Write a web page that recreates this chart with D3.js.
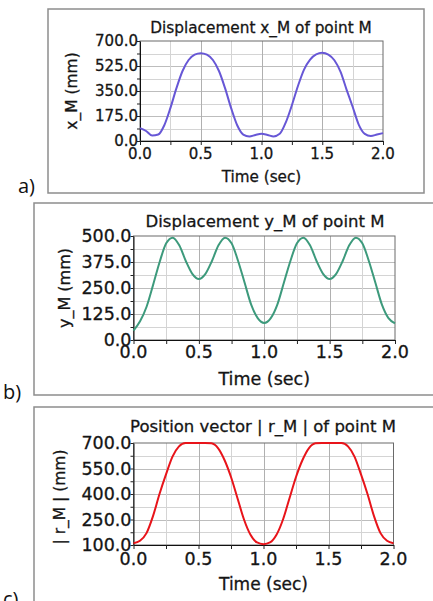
<!DOCTYPE html>
<html>
<head>
<meta charset="utf-8">
<script src="https://cdn.jsdelivr.net/npm/d3@7"></script>
<style>
  body { margin: 0; background: #fff; }
  svg { display: block; }
  .lbl { fill: #151515; stroke: #151515; stroke-width: 0.3; }
</style>
</head>
<body>
<svg id="chart" width="433" height="601"></svg>
<script>
// time samples (sec)
const time = [0, 0.05, 0.1, 0.15, 0.2, 0.25, 0.3, 0.35, 0.4, 0.45, 0.5,
  0.55, 0.6, 0.65, 0.7, 0.75, 0.8, 0.85, 0.9, 0.95, 1.0,
  1.05, 1.1, 1.15, 1.2, 1.25, 1.3, 1.35, 1.4, 1.45, 1.5,
  1.55, 1.6, 1.65, 1.7, 1.75, 1.8, 1.85, 1.9, 1.95, 2.0];

// displacement x_M (mm)
const xM = [90, 70, 38, 45, 110, 230, 370, 490, 567, 605, 615,
  605, 567, 490, 370, 230, 110, 45, 32, 42, 50,
  42, 32, 50, 130, 250, 385, 500, 570, 607, 617,
  605, 565, 485, 360, 240, 115, 50, 35, 45, 55];

// displacement y_M (mm)
const yM = [45, 90, 160, 265, 375, 465, 492, 455, 380, 318, 293,
  318, 380, 455, 492, 465, 380, 275, 170, 105, 82,
  105, 170, 275, 380, 465, 492, 455, 380, 318, 293,
  318, 380, 455, 492, 465, 380, 275, 170, 105, 80];

// |r_M| (mm)
const rM = [110, 125, 170, 270, 400, 515, 620, 680, 700, 700, 700,
  700, 698, 670, 600, 500, 375, 250, 160, 115, 105,
  115, 160, 250, 375, 500, 600, 670, 698, 700, 700,
  700, 700, 680, 620, 515, 400, 270, 170, 125, 110];

const timeTicks = [0, 0.5, 1.0, 1.5, 2.0];
const xMTicks = [0, 175, 350, 525, 700];
const yMTicks = [0, 125, 250, 375, 500];
const rMTicks = [100, 250, 400, 550, 700];

const titles = ["Displacement x_M of point M", "Displacement y_M of point M", "Position vector | r_M | of point M"];
const yTitles = ["x_M (mm)", "y_M (mm)", "| r_M | (mm)"];
const panelLabels = ["a)", "b)", "c)"];
const xTitle = "Time (sec)";

const panels = [
  { values: xM, ticks: xMTicks, color: "#6757d6",
    frame: [48, 9, 376, 184], plot: [140, 383, 41, 141],
    label: [18, 193], titleX: 261, titleY: 33, titleFs: 15.3,
    tickFs: 15, xTickY: 159, xLabY: 181.5, axisFs: 15.2,
    yLabX: 77, yLabY: 91, yLabFs: 15.5 },
  { values: yM, ticks: yMTicks, color: "#3d9a7c",
    frame: [34, 203, 420, 192], plot: [133.5, 395, 236, 340],
    label: [3, 399], titleX: 265, titleY: 226.5, titleFs: 16.5,
    tickFs: 17.5, xTickY: 358, xLabY: 385, axisFs: 17.5,
    yLabX: 70, yLabY: 288, yLabFs: 16 },
  { values: rM, ticks: rMTicks, color: "#e8141a",
    frame: [34, 407, 420, 220], plot: [133.5, 393.5, 443, 545],
    label: [3, 606], titleX: 263, titleY: 431.5, titleFs: 16.5,
    tickFs: 17.5, xTickY: 565, xLabY: 590, axisFs: 17,
    yLabX: 65, yLabY: 497, yLabFs: 15.5 }
];

const svg = d3.select("#chart");
const font = "'DejaVu Sans', sans-serif";
const fmt = d3.format(".1f");

panels.forEach((p, i) => {
  const g = svg.append("g");

  // outer frame
  g.append("rect")
    .attr("x", p.frame[0]).attr("y", p.frame[1])
    .attr("width", p.frame[2]).attr("height", p.frame[3])
    .attr("fill", "none")
    .attr("stroke", "#8d8d8d")
    .attr("stroke-width", 1.5);

  g.append("text")
    .attr("x", p.label[0]).attr("y", p.label[1])
    .attr("font-family", "'Open Sans', sans-serif")
    .attr("font-size", 20)
    .attr("fill", "#111")
    .text(panelLabels[i]);

  const x = d3.scaleLinear().domain([0, 2]).range([p.plot[0], p.plot[1]]);
  const y = d3.scaleLinear()
    .domain([p.ticks[0], p.ticks[p.ticks.length - 1]])
    .range([p.plot[3], p.plot[2]]);

  const step = (p.ticks[1] - p.ticks[0]) / 2;
  const yGridVals = d3.range(p.ticks[0], p.ticks[p.ticks.length - 1] + step / 2, step);
  const xGridVals = d3.range(0, 2.001, 0.25);

  // grid
  g.append("g")
    .selectAll("line")
    .data(yGridVals.slice(1, -1))
    .join("line")
    .attr("x1", p.plot[0]).attr("x2", p.plot[1])
    .attr("y1", (d) => Math.round(y(d)) + 0.5)
    .attr("y2", (d) => Math.round(y(d)) + 0.5)
    .attr("stroke", (d, j) => (j % 2 === 1 ? "#bdbdbd" : "#d4d4d4"));

  g.append("g")
    .selectAll("line")
    .data(xGridVals.slice(1, -1))
    .join("line")
    .attr("y1", p.plot[2]).attr("y2", p.plot[3])
    .attr("x1", (d) => Math.round(x(d)) + 0.5)
    .attr("x2", (d) => Math.round(x(d)) + 0.5)
    .attr("stroke", (d, j) => (j % 2 === 1 ? "#b0b0b0" : "#d4d4d4"));

  // plot border
  g.append("rect")
    .attr("x", p.plot[0]).attr("y", p.plot[2])
    .attr("width", p.plot[1] - p.plot[0])
    .attr("height", p.plot[3] - p.plot[2])
    .attr("fill", "none")
    .attr("stroke", "#6a6a6a");

  // axes
  g.append("g")
    .attr("transform", `translate(${p.plot[0]},0)`)
    .call(d3.axisLeft(y).tickValues(yGridVals).tickFormat("").tickSize(3).tickSizeOuter(0))
    .call((a) => a.selectAll("line").attr("stroke", "#222"))
    .call((a) => a.select(".domain").attr("stroke", "#111"));

  g.append("g")
    .selectAll("text")
    .data(p.ticks)
    .join("text")
    .attr("class", "lbl")
    .attr("x", p.plot[0] - 2)
    .attr("y", (d) => y(d))
    .attr("dy", "0.36em")
    .attr("text-anchor", "end")
    .attr("font-family", font)
    .attr("font-size", p.tickFs)
    .text((d) => fmt(d));

  g.append("g")
    .attr("transform", `translate(0,${p.plot[3]})`)
    .call(d3.axisBottom(x).tickValues(xGridVals).tickFormat("").tickSize(4).tickSizeOuter(0))
    .call((a) => a.selectAll("line").attr("stroke", "#222"))
    .call((a) => a.select(".domain").attr("stroke", "#111"));

  g.append("g")
    .selectAll("text")
    .data(timeTicks)
    .join("text")
    .attr("class", "lbl")
    .attr("x", (d) => x(d))
    .attr("y", p.xTickY)
    .attr("text-anchor", "middle")
    .attr("font-family", font)
    .attr("font-size", p.tickFs)
    .text((d) => fmt(d));

  // titles
  g.append("text")
    .attr("class", "lbl")
    .attr("x", p.titleX).attr("y", p.titleY)
    .attr("text-anchor", "middle")
    .attr("font-family", font)
    .attr("font-size", p.titleFs)
    .text(titles[i]);

  g.append("text")
    .attr("class", "lbl")
    .attr("x", (p.plot[0] + p.plot[1]) / 2).attr("y", p.xLabY)
    .attr("text-anchor", "middle")
    .attr("font-family", font)
    .attr("font-size", p.axisFs)
    .text(xTitle);

  g.append("text")
    .attr("class", "lbl")
    .attr("transform", `translate(${p.yLabX},${p.yLabY}) rotate(-90)`)
    .attr("text-anchor", "middle")
    .attr("font-family", font)
    .attr("font-size", p.yLabFs)
    .text(yTitles[i]);

  // curve
  const line = d3.line()
    .x((d, j) => x(time[j]))
    .y((d) => y(d))
    .curve(d3.curveMonotoneX);

  g.append("path")
    .datum(p.values)
    .attr("d", line)
    .attr("fill", "none")
    .attr("stroke", p.color)
    .attr("stroke-width", 2);
});
</script>
</body>
</html>
